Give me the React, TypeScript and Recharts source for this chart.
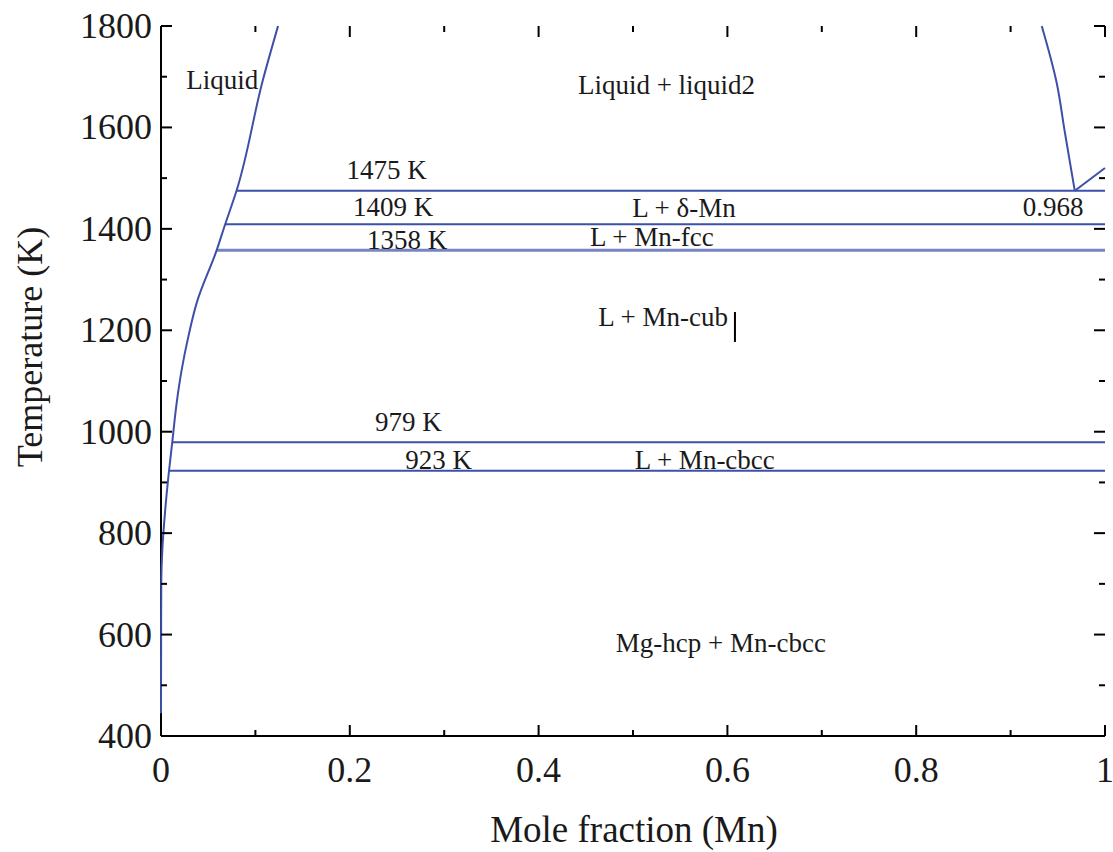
import { ScatterChart, Scatter, XAxis, YAxis } from 'recharts';

// Mg–Mn phase diagram
const xTicks = [0, 0.1, 0.2, 0.3, 0.4, 0.5, 0.6, 0.7, 0.8, 0.9, 1];
const yTicks = [400, 500, 600, 700, 800, 900, 1000, 1100, 1200, 1300, 1400, 1500, 1600, 1700, 1800];

// left liquidus (Mg side)
const leftLiqX = [0, 0.0003, 0.0014, 0.0042, 0.0085, 0.0119, 0.0166, 0.0219, 0.0289, 0.0378, 0.059, 0.068, 0.08, 0.108, 0.124];
const leftLiqT = [445, 700, 767, 840, 923, 979, 1057, 1122, 1187, 1254, 1358, 1409, 1475, 1694, 1800];

// right liquidus (Mn side) and δ-Mn boundary
const rightLiqX = [0.933, 0.9488, 0.9576, 0.968];
const rightLiqT = [1800, 1688, 1589, 1475];
const deltaX = [0.968, 1];
const deltaT = [1475, 1520];

// invariant temperatures and the left end of each line
const isoT = [1475, 1409, 1358, 979, 923];
const isoStart = [0.08, 0.068, 0.059, 0.0119, 0.0085];
const isoWidth = [2, 2, 3, 2, 2];

const markX = [0.608, 0.608];
const markT = [1177, 1236];

const labelText = ['Liquid', 'Liquid + liquid2', '1475 K', '1409 K', '1358 K', 'L + δ-Mn', 'L + Mn-fcc', 'L + Mn-cub', '0.968', '979 K', '923 K', 'L + Mn-cbcc', 'Mg-hcp + Mn-cbcc'];
const labelX = [0.065, 0.5355, 0.2389, 0.2458, 0.2606, 0.554, 0.52, 0.532, 0.945, 0.262, 0.294, 0.576, 0.593];
const labelT = [1694, 1684, 1516, 1443, 1378, 1441, 1384, 1226, 1443, 1019, 944, 944, 583];

const BLUE = '#3d50a8';
const FONT = '"Liberation Serif", "Times New Roman", serif';

// plot box edges (margin + axis sizes)
const LEFT = 161;
const RIGHT = 1105;
const TOP = 26;
const BOTTOM = 736;

const pts = (xs: number[], ts: number[]) => xs.map((x, i) => ({ x, y: ts[i] }));
const labels = labelText.map((text, i) => ({ x: labelX[i], y: labelT[i], text }));

const Nothing = () => <g />;

const LabelShape = (p: any) => (
  <text x={p.cx} y={p.cy} textAnchor="middle" dominantBaseline="central" fontFamily={FONT} fontSize={27} fill="#1a1a1a">
    {p.payload.text}
  </text>
);

const isMajorX = (v: number) => Math.round(v * 10) % 2 === 0;
const isMajorY = (v: number) => v % 200 === 0;

const BottomTick = (p: any) => {
  const v = p.payload.value;
  const major = isMajorX(v);
  return (
    <g>
      <line x1={p.x} x2={p.x} y1={BOTTOM} y2={BOTTOM - (major ? 11 : 6)} stroke="#000" strokeWidth={2} />
      <line x1={p.x} x2={p.x} y1={TOP} y2={TOP + (major ? 11 : 6)} stroke="#000" strokeWidth={2} />
      {major && (
        <text x={p.x} y={BOTTOM + 34} textAnchor="middle" dominantBaseline="central" fontFamily={FONT} fontSize={36} fill="#1a1a1a">
          {String(v)}
        </text>
      )}
    </g>
  );
};

const LeftTick = (p: any) => {
  const v = p.payload.value;
  const major = isMajorY(v);
  return (
    <g>
      <line x1={LEFT} x2={LEFT + (major ? 11 : 6)} y1={p.y} y2={p.y} stroke="#000" strokeWidth={2} />
      <line x1={RIGHT} x2={RIGHT - (major ? 11 : 6)} y1={p.y} y2={p.y} stroke="#000" strokeWidth={2} />
      {major && (
        <text x={LEFT - 9} y={p.y} textAnchor="end" dominantBaseline="central" fontFamily={FONT} fontSize={36} fill="#1a1a1a">
          {String(v)}
        </text>
      )}
    </g>
  );
};

const YTitle = () => (
  <text x={30} y={347} transform="rotate(-90 30 347)" textAnchor="middle" dominantBaseline="central" fontFamily={FONT} fontSize={36} fill="#1a1a1a">
    Temperature (K)
  </text>
);

const XTitle = () => (
  <text x={634} y={829} textAnchor="middle" dominantBaseline="central" fontFamily={FONT} fontSize={37} fill="#1a1a1a">
    Mole fraction (Mn)
  </text>
);

const axisLine = { stroke: '#000', strokeWidth: 2 };

export default function App() {
  return (
    <div style={{ position: 'absolute', left: 0, top: 0, background: '#fff' }}>
      <ScatterChart width={1113} height={852} margin={{ top: TOP, right: 8, bottom: 0, left: 0 }}>
        <XAxis
          xAxisId="b"
          type="number"
          dataKey="x"
          domain={[0, 1]}
          ticks={xTicks}
          interval={0}
          height={116}
          tickSize={0}
          tickMargin={0}
          axisLine={axisLine}
          tick={<BottomTick />}
          label={<XTitle />}
        />
        <XAxis
          xAxisId="t"
          orientation="top"
          type="number"
          dataKey="x"
          domain={[0, 1]}
          height={0}
          tick={false}
          tickLine={false}
          axisLine={axisLine}
        />
        <YAxis
          yAxisId="l"
          type="number"
          dataKey="y"
          domain={[400, 1800]}
          ticks={yTicks}
          interval={0}
          width={LEFT}
          tickSize={0}
          tickMargin={0}
          axisLine={axisLine}
          tick={<LeftTick />}
          label={<YTitle />}
        />
        <YAxis
          yAxisId="r"
          orientation="right"
          type="number"
          dataKey="y"
          domain={[400, 1800]}
          width={0}
          tick={false}
          tickLine={false}
          axisLine={axisLine}
        />

        {isoT.map((t, i) => (
          <Scatter
            key={t}
            xAxisId="b"
            yAxisId="l"
            data={pts([isoStart[i], 1], [t, t])}
            line={{ stroke: BLUE, strokeWidth: isoWidth[i], strokeOpacity: isoWidth[i] > 2 ? 0.7 : 1 }}
            shape={<Nothing />}
            isAnimationActive={false}
          />
        ))}
        <Scatter xAxisId="b" yAxisId="l" data={pts(leftLiqX, leftLiqT)} line={{ stroke: BLUE, strokeWidth: 2 }} lineJointType="monotoneY" shape={<Nothing />} isAnimationActive={false} />
        <Scatter xAxisId="b" yAxisId="l" data={pts(rightLiqX, rightLiqT)} line={{ stroke: BLUE, strokeWidth: 2 }} lineJointType="monotoneY" shape={<Nothing />} isAnimationActive={false} />
        <Scatter xAxisId="b" yAxisId="l" data={pts(deltaX, deltaT)} line={{ stroke: BLUE, strokeWidth: 2 }} shape={<Nothing />} isAnimationActive={false} />
        <Scatter xAxisId="b" yAxisId="l" data={pts(markX, markT)} line={{ stroke: '#000', strokeWidth: 2 }} shape={<Nothing />} isAnimationActive={false} />
        <Scatter xAxisId="b" yAxisId="l" data={labels} shape={<LabelShape />} isAnimationActive={false} />
      </ScatterChart>
    </div>
  );
}
